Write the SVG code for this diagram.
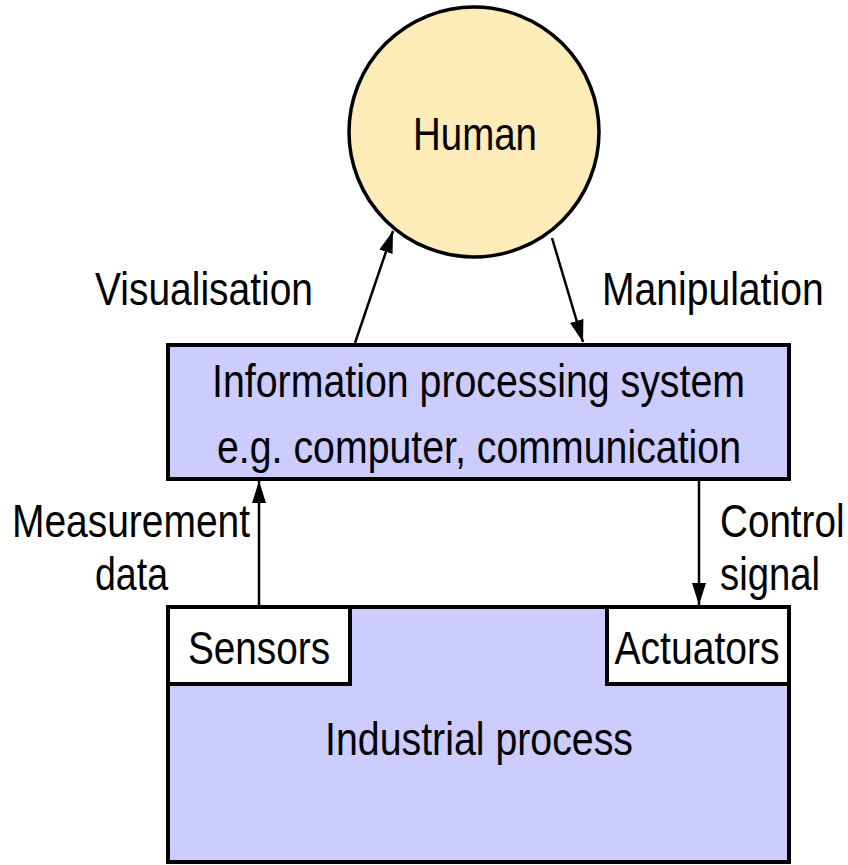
<svg xmlns="http://www.w3.org/2000/svg" width="848" height="865" viewBox="0 0 848 865">
<style>
  text { font-family: "Liberation Sans Narrow", "Liberation Sans", Arial, sans-serif; font-size: 46px; fill: #000; }
  .box { fill: #CCCCFF; stroke: #000; stroke-width: 4; }
  .wbox { fill: #FFFFFF; stroke: #000; stroke-width: 4; }
  .conn { stroke: #000; stroke-width: 2.5; fill: none; marker-end: url(#arrow); }
</style>
<defs>
  <marker id="arrow" markerUnits="userSpaceOnUse" markerWidth="24" markerHeight="16" refX="22" refY="7" orient="auto">
    <path d="M0,0 L22,7 L0,14 z" fill="#000"/>
  </marker>
</defs>
<rect x="0" y="0" width="848" height="865" fill="#FFFFFF"/>

<g id="human">
  <circle cx="474" cy="132" r="125" fill="#FDEBB8" stroke="#000" stroke-width="3.5"/>
  <text x="475" y="150" text-anchor="middle" textLength="124" lengthAdjust="spacingAndGlyphs">Human</text>
</g>

<g id="info-system">
  <rect class="box" x="168" y="345" width="621" height="134"/>
  <text x="478.5" y="397" text-anchor="middle" textLength="533" lengthAdjust="spacingAndGlyphs">Information processing system</text>
  <text x="479" y="463" text-anchor="middle" textLength="524" lengthAdjust="spacingAndGlyphs">e.g. computer, communication</text>
</g>

<g id="industrial-process">
  <rect class="box" x="168" y="607" width="621" height="255"/>
  <text x="479" y="755" text-anchor="middle" textLength="308" lengthAdjust="spacingAndGlyphs">Industrial process</text>
</g>

<g id="sensors">
  <rect class="wbox" x="168" y="607" width="182" height="77"/>
  <text x="259" y="664" text-anchor="middle" textLength="142" lengthAdjust="spacingAndGlyphs">Sensors</text>
</g>

<g id="actuators">
  <rect class="wbox" x="607" y="607" width="182" height="77"/>
  <text x="697" y="664" text-anchor="middle" textLength="165" lengthAdjust="spacingAndGlyphs">Actuators</text>
</g>

<g id="connectors">
  <line class="conn" x1="355" y1="343" x2="393" y2="231"/>
  <line class="conn" x1="552" y1="238" x2="583" y2="342"/>
  <line class="conn" x1="259" y1="605" x2="259" y2="481"/>
  <line class="conn" x1="699" y1="481" x2="699" y2="605"/>
</g>

<g id="labels">
  <text x="95" y="305" textLength="218" lengthAdjust="spacingAndGlyphs">Visualisation</text>
  <text transform="translate(602,305) scale(0.85,1)">Manipulation</text>
  <text x="12" y="537" textLength="238" lengthAdjust="spacingAndGlyphs">Measurement</text>
  <text x="95" y="590" textLength="73" lengthAdjust="spacingAndGlyphs">data</text>
  <text transform="translate(720,537) scale(0.84,1)">Control</text>
  <text x="720" y="590" textLength="100" lengthAdjust="spacingAndGlyphs">signal</text>
</g>
</svg>
